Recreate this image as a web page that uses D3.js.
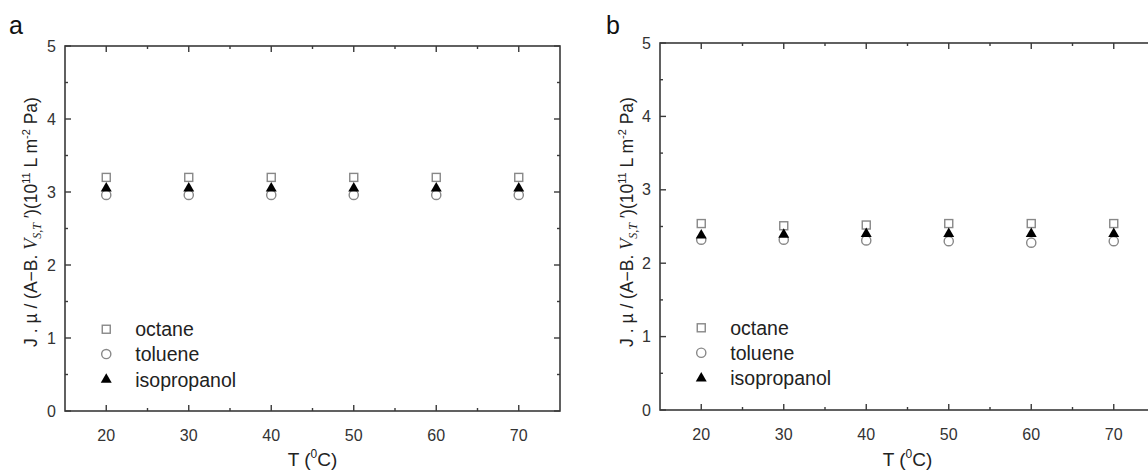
<!DOCTYPE html>
<html>
<head>
<meta charset="utf-8">
<script src="https://cdn.jsdelivr.net/npm/d3@7"></script>
<style>
  body { margin: 0; background: #fff; }
  svg { font-family: "Liberation Sans", Arial, sans-serif; }
</style>
</head>
<body>
<svg id="chart" width="1148" height="470"></svg>
<script>
// temperatures (deg C)
var temps = [20, 30, 40, 50, 60, 70];
var seriesNames = ["octane", "toluene", "isopropanol"];
var yTicks = [0, 1, 2, 3, 4, 5];
var xTicks = [20, 30, 40, 50, 60, 70];

// panel a
var octaneA = [3.2, 3.2, 3.2, 3.2, 3.2, 3.2];
var tolueneA = [2.96, 2.96, 2.96, 2.96, 2.96, 2.96];
var isopropanolA = [3.05, 3.05, 3.05, 3.05, 3.05, 3.05];

// panel b
var octaneB = [2.54, 2.51, 2.52, 2.54, 2.54, 2.54];
var tolueneB = [2.32, 2.32, 2.31, 2.3, 2.28, 2.3];
var isopropanolB = [2.38, 2.39, 2.4, 2.4, 2.4, 2.4];

var svg = d3.select("#chart");

var drawPanel = function(opts) {
    var x = d3.scaleLinear().domain([15, 75]).range([opts.left, opts.left + 495]),
        y = d3.scaleLinear().domain([0, 5]).range([opts.bottom, opts.top]);
    var g = svg.append("g");
    var axisColor = "#3a3a3a";

    // frame
    var xr = x.range(), yr = y.range();
    g.append("rect")
        .attr("x", xr[0]).attr("y", yr[1])
        .attr("width", xr[1] - xr[0]).attr("height", yr[0] - yr[1])
        .attr("fill", "none").attr("stroke", axisColor).attr("stroke-width", 1.6);

    var minorX = d3.range(25, 75, 10),
        minorY = d3.range(0.5, 5, 1);

    // inward ticks on all four sides
    var tickG = g.append("g").attr("stroke", axisColor).attr("stroke-width", 1.4);
    xTicks.forEach(function(t) {
        tickG.append("line").attr("x1", x(t)).attr("x2", x(t)).attr("y1", yr[0]).attr("y2", yr[0] - 6);
        tickG.append("line").attr("x1", x(t)).attr("x2", x(t)).attr("y1", yr[1]).attr("y2", yr[1] + 6);
    });
    minorX.forEach(function(t) {
        tickG.append("line").attr("x1", x(t)).attr("x2", x(t)).attr("y1", yr[0]).attr("y2", yr[0] - 3);
        tickG.append("line").attr("x1", x(t)).attr("x2", x(t)).attr("y1", yr[1]).attr("y2", yr[1] + 3);
    });
    yTicks.forEach(function(t) {
        tickG.append("line").attr("y1", y(t)).attr("y2", y(t)).attr("x1", xr[0]).attr("x2", xr[0] + 6);
        tickG.append("line").attr("y1", y(t)).attr("y2", y(t)).attr("x1", xr[1]).attr("x2", xr[1] - 6);
    });
    minorY.forEach(function(t) {
        tickG.append("line").attr("y1", y(t)).attr("y2", y(t)).attr("x1", xr[0]).attr("x2", xr[0] + 3);
        tickG.append("line").attr("y1", y(t)).attr("y2", y(t)).attr("x1", xr[1]).attr("x2", xr[1] - 3);
    });

    // tick labels
    g.selectAll(".xl").data(xTicks).enter().append("text")
        .attr("x", function(d) { return x(d); })
        .attr("y", yr[0] + 30)
        .attr("text-anchor", "middle")
        .attr("font-size", 16).attr("fill", "#333")
        .text(function(d) { return d; });
    g.selectAll(".yl").data(yTicks).enter().append("text")
        .attr("x", xr[0] - 9)
        .attr("y", function(d) { return y(d) + 5.5; })
        .attr("text-anchor", "end")
        .attr("font-size", 16).attr("fill", "#333")
        .text(function(d) { return d; });

    // x title
    var xt = g.append("text")
        .attr("x", x(45)).attr("y", 466)
        .attr("text-anchor", "middle")
        .attr("font-size", 19).attr("fill", "#222");
    xt.append("tspan").text("T (");
    xt.append("tspan").attr("font-size", 12).attr("dy", -8).text("0");
    xt.append("tspan").attr("dy", 8).text("C)");

    // y title
    var yt = g.append("text")
        .attr("transform", "translate(" + opts.titleX + "," + 222 + ") rotate(-90)")
        .attr("text-anchor", "middle")
        .attr("font-size", 17.5).attr("fill", "#222");
    yt.append("tspan").text("J . \u00b5 / (A\u2212B. ");
    yt.append("tspan").attr("font-family", "'Liberation Serif', 'DejaVu Serif', serif")
        .attr("font-style", "italic").attr("font-size", 18).text("V");
    yt.append("tspan").attr("font-family", "'Liberation Serif', 'DejaVu Serif', serif")
        .attr("font-style", "italic").attr("font-size", 12).attr("dy", 4).text("S,T");
    yt.append("tspan").attr("dy", -4).text(" \u2032)(10");
    yt.append("tspan").attr("font-size", 11).attr("dy", -7).text("11");
    yt.append("tspan").attr("dy", 7).text(" L m");
    yt.append("tspan").attr("font-size", 11).attr("dy", -7).text("-2");
    yt.append("tspan").attr("dy", 7).text(" Pa)");

    // panel letter
    g.append("text").attr("x", opts.letterX).attr("y", 34)
        .attr("font-size", 25).attr("fill", "#111").text(opts.letter);

    var sq = function(sel) {
        sel.attr("width", 8).attr("height", 8)
            .attr("fill", "#fff").attr("stroke", "#888").attr("stroke-width", 1.4);
    };
    var tri = d3.symbol().type(d3.symbolTriangle).size(52);

    // markers: octane, toluene, isopropanol (triangles on top)
    g.selectAll(".oct").data(opts.octane).enter().append("rect")
        .attr("x", function(d, i) { return x(temps[i]) - 4; })
        .attr("y", function(d) { return y(d) - 4; })
        .call(sq);
    g.selectAll(".tol").data(opts.toluene).enter().append("circle")
        .attr("cx", function(d, i) { return x(temps[i]); })
        .attr("cy", function(d) { return y(d); })
        .attr("r", 4.6)
        .attr("fill", "#fff").attr("stroke", "#888").attr("stroke-width", 1.4);
    g.selectAll(".iso").data(opts.iso).enter().append("path")
        .attr("d", tri)
        .attr("transform", function(d, i) { return "translate(" + x(temps[i]) + "," + y(d) + ")"; })
        .attr("fill", "#000");

    // legend
    var lx = x(20), ly = [1.12, 0.78, 0.43];
    var leg = g.append("g");
    leg.append("rect").attr("x", lx - 4).attr("y", y(ly[0]) - 4).call(sq);
    leg.append("circle").attr("cx", lx).attr("cy", y(ly[1])).attr("r", 4.6)
        .attr("fill", "#fff").attr("stroke", "#888").attr("stroke-width", 1.4);
    leg.append("path").attr("d", tri).attr("transform", "translate(" + lx + "," + y(ly[2]) + ")")
        .attr("fill", "#000");
    seriesNames.forEach(function(n, i) {
        leg.append("text").attr("x", lx + 29).attr("y", y(ly[i]) + 7)
            .attr("font-size", 19.5).attr("fill", "#222").text(n);
    });
};

drawPanel({ left: 65, top: 46, bottom: 411, titleX: 37, letterX: 9, letter: "a",
    octane: octaneA, toluene: tolueneA, iso: isopropanolA });
drawPanel({ left: 660, top: 43, bottom: 410, titleX: 633, letterX: 606, letter: "b",
    octane: octaneB, toluene: tolueneB, iso: isopropanolB });
</script>
</body>
</html>
